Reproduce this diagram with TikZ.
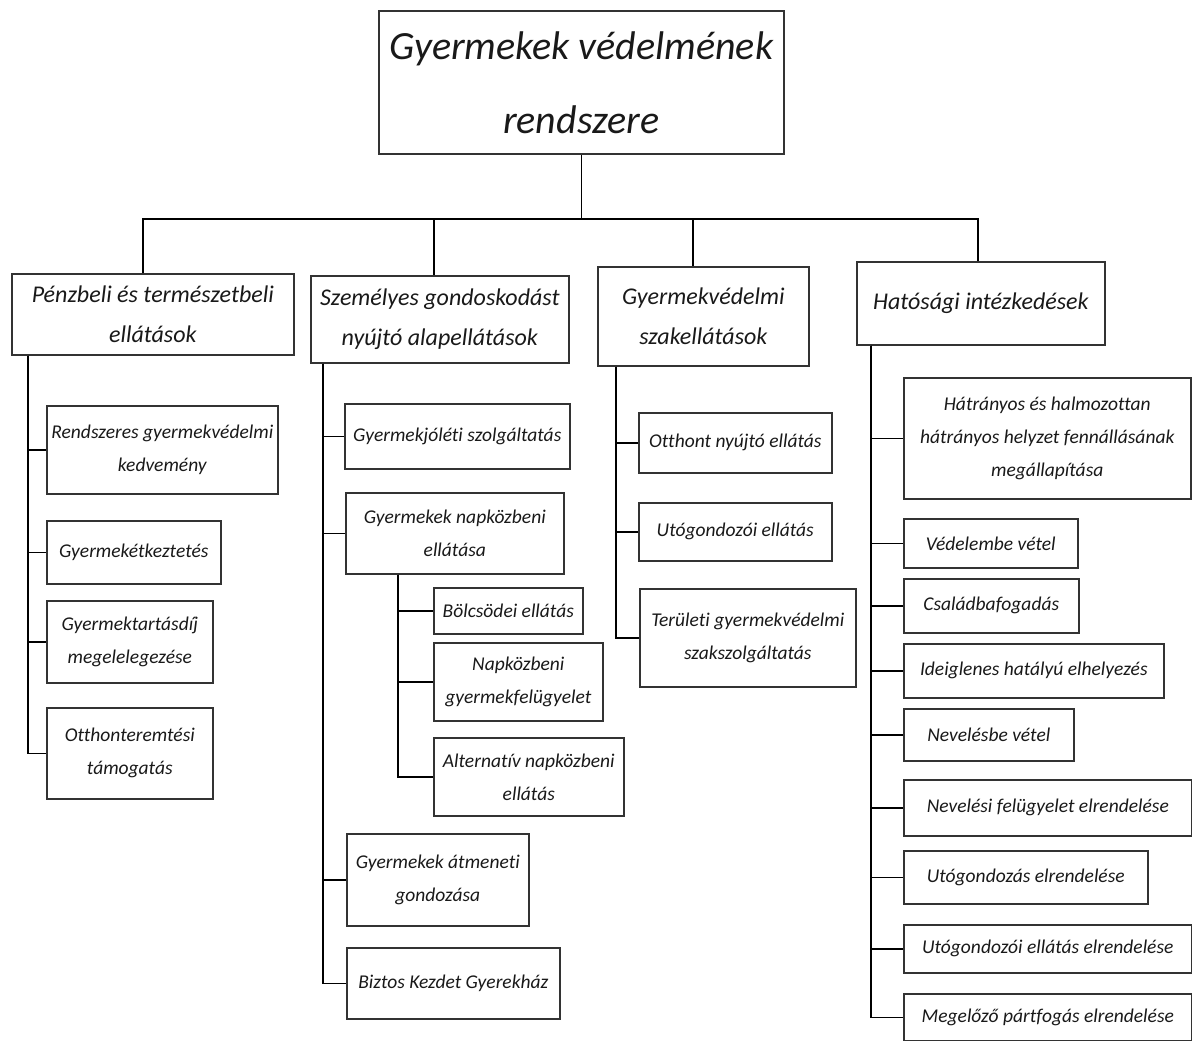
\documentclass[tikz,border=0pt]{standalone}
\usepackage{fontspec}
\setmainfont{Carlito}[Ligatures=NoCommon]

\tikzset{
  box/.style 2 args={draw=black!80, line width=1.6pt, anchor=north west,
    minimum width=#1pt, minimum height=#2pt, inner sep=2pt, align=center,
    text=black!90, font=\itshape\fontsize{19.5}{33}\selectfont},
  head/.style={font=\itshape\fontsize{24}{40}\selectfont},
  link/.style={line width=1.6pt},
}

\begin{document}
\begin{tikzpicture}[x=1pt,y=-1pt]
    \useasboundingbox (0,0) rectangle (1192,1041);

    % root
    \node[box={405}{143}, font=\itshape\fontsize{40}{74}\selectfont] (rendszer) at (378,10) {Gyermekek védelmének\\rendszere};

    % four branches
    \node[box={282}{81}, head] (penz) at (11,273) {Pénzbeli és természetbeli\\ellátások};
    \node[box={258}{87}, head] (szem) at (310,275) {Személyes gondoskodást\\nyújtó alapellátások};
    \node[box={211}{99}, head] (szak) at (597,266) {Gyermekvédelmi\\szakellátások};
    \node[box={248}{83}, head] (hat) at (856,261) {Hatósági intézkedések};

    \coordinate (j1) at (143,219);
    \coordinate (j2) at (434,219);
    \coordinate (j3) at (693,219);
    \coordinate (j4) at (978,219);
    \draw[link] (rendszer.south) -- (rendszer.south |- j1);
    \draw[link] (j1 |- penz.north) -- (j1) -- (j4) -- (j4 |- hat.north);
    \draw[link] (j2) -- (j2 |- szem.north);
    \draw[link] (j3) -- (j3 |- szak.north);

    % penzbeli
    \node[box={231}{88}] (rendsz) at (46,405) {Rendszeres gyermekvédelmi\\kedvemény};
    \node[box={174}{63}] (etkez) at (46,520) {Gyermekétkeztetés};
    \node[box={166}{82}] (tartas) at (46,600) {Gyermektartásdíj\\megelelegezése};
    \node[box={166}{91}] (otthonter) at (46,707) {Otthonteremtési\\támogatás};
    \foreach \c in {rendsz,etkez,tartas,otthonter}
        \draw[link] ([xshift=17pt]penz.south west) |- (\c.west);

    % szemelyes
    \node[box={225}{65}] (jolet) at (344,403) {Gyermekjóléti szolgáltatás};
    \node[box={218}{81}] (napk) at (345,492) {Gyermekek napközbeni\\ellátása};
    \node[box={149}{46}] (bolcs) at (433,587) {Bölcsödei ellátás};
    \node[box={169}{78}] (felugy) at (433,642) {Napközbeni\\gyermekfelügyelet};
    \node[box={190}{78}] (altern) at (433,737) {Alternatív napközbeni\\ellátás};
    \node[box={182}{92}] (atmen) at (346,833) {Gyermekek átmeneti\\gondozása};
    \node[box={213}{71}] (biztos) at (346,947) {Biztos Kezdet Gyerekház};
    \foreach \c in {jolet,napk,atmen,biztos}
        \draw[link] ([xshift=13pt]szem.south west) |- (\c.west);
    \foreach \c in {bolcs,felugy,altern}
        \draw[link] ([xshift=53pt]napk.south west) |- (\c.west);

    % szakellatasok
    \node[box={193}{60}] (otthont) at (638,412) {Otthont nyújtó ellátás};
    \node[box={193}{58}] (utogell) at (638,502) {Utógondozói ellátás};
    \node[box={216}{98}] (terul) at (639,588) {Területi gyermekvédelmi\\szakszolgáltatás};
    \foreach \c in {otthont,utogell,terul}
        \draw[link] ([xshift=19pt]szak.south west) |- (\c.west);

    % hatosagi
    \node[box={287}{121}] (hatrany) at (903,377) {Hátrányos és halmozottan\\hátrányos helyzet fennállásának\\megállapítása};
    \node[box={174}{49}] (vedel) at (903,518) {Védelembe vétel};
    \node[box={175}{54}] (csalad) at (903,578) {Családbafogadás};
    \node[box={260}{54}] (ideigl) at (903,643) {Ideiglenes hatályú elhelyezés};
    \node[box={170}{52}] (neveles) at (903,708) {Nevelésbe vétel};
    \node[box={288}{56}] (nevfel) at (903,779) {Nevelési felügyelet elrendelése};
    \node[box={244}{53}] (utgond) at (903,850) {Utógondozás elrendelése};
    \node[box={288}{48}] (utgell) at (903,924) {Utógondozói ellátás elrendelése};
    \node[box={288}{47}] (megel) at (903,993) {Megelőző pártfogás elrendelése};
    \foreach \c in {hatrany,vedel,csalad,ideigl,neveles,nevfel,utgond,utgell,megel}
        \draw[link] ([xshift=15pt]hat.south west) |- (\c.west);
\end{tikzpicture}
\end{document}
